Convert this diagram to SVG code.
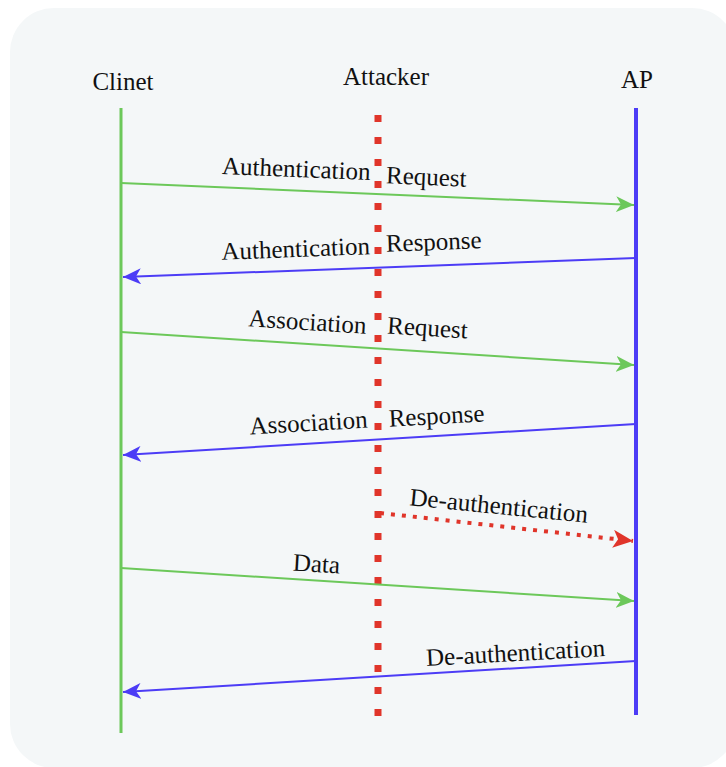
<svg xmlns="http://www.w3.org/2000/svg" width="726" height="767" viewBox="0 0 726 767">
  <defs>
    <style>
      .label { font-family: "Liberation Serif", "Times New Roman", serif; font-size: 25px; fill: #111; text-anchor: middle; }
      .msg-green { stroke: #6cc85a; stroke-width: 2; fill: none; }
      .msg-blue { stroke: #4c3cf6; stroke-width: 2; fill: none; }
      .msg-red { stroke: #e0352a; stroke-width: 4; fill: none; stroke-dasharray: 4 7; }
    </style>
    <marker id="head-green" markerUnits="userSpaceOnUse" markerWidth="18" markerHeight="16" refX="18" refY="8" orient="auto">
      <path d="M0,0 L18,8 L0,16 L5,8 Z" fill="#6cc85a"/>
    </marker>
    <marker id="head-blue" markerUnits="userSpaceOnUse" markerWidth="18" markerHeight="16" refX="18" refY="8" orient="auto">
      <path d="M0,0 L18,8 L0,16 L5,8 Z" fill="#4c3cf6"/>
    </marker>
    <marker id="head-red" markerUnits="userSpaceOnUse" markerWidth="20" markerHeight="18" refX="20" refY="9" orient="auto">
      <path d="M0,0 L20,9 L0,18 L5,9 Z" fill="#e0352a"/>
    </marker>
  </defs>

  <!-- page background and panel -->
  <rect x="0" y="0" width="726" height="767" fill="#ffffff"/>
  <rect x="10" y="8" width="726" height="760" rx="44" ry="44" fill="#f4f7f8"/>

  <!-- participants -->
  <g id="client">
    <text class="label" x="123" y="90">Clinet</text>
    <line x1="121" y1="108" x2="121" y2="733" stroke="#6cc85a" stroke-width="3"/>
  </g>
  <g id="attacker">
    <text class="label" x="386" y="85">Attacker</text>
    <line x1="378" y1="115" x2="378" y2="716" stroke="#e0352a" stroke-width="7" stroke-dasharray="7 15"/>
  </g>
  <g id="ap">
    <text class="label" x="637" y="88">AP</text>
    <line x1="636" y1="108" x2="636" y2="715" stroke="#4c3cf6" stroke-width="4"/>
  </g>

  <!-- messages -->
  <g id="connectors">
    <line class="msg-green" x1="121" y1="183" x2="634" y2="205" marker-end="url(#head-green)"/>
    <line class="msg-blue" x1="636" y1="258" x2="123" y2="277" marker-end="url(#head-blue)"/>
    <line class="msg-green" x1="121" y1="332" x2="634" y2="365" marker-end="url(#head-green)"/>
    <line class="msg-blue" x1="636" y1="424" x2="123" y2="455" marker-end="url(#head-blue)"/>
    <line class="msg-red" x1="380" y1="513" x2="633" y2="541" marker-end="url(#head-red)"/>
    <line class="msg-green" x1="121" y1="568" x2="634" y2="601" marker-end="url(#head-green)"/>
    <line class="msg-blue" x1="636" y1="661" x2="123" y2="692" marker-end="url(#head-blue)"/>
  </g>

  <!-- message labels -->
  <g id="labels">
    <text class="label" transform="translate(296,177) rotate(2.4)">Authentication</text>
    <text class="label" transform="translate(426,185) rotate(2.4)">Request</text>
    <text class="label" transform="translate(296,257) rotate(-2.2)">Authentication</text>
    <text class="label" transform="translate(434,250) rotate(-2.2)">Response</text>
    <text class="label" transform="translate(307,330) rotate(3.6)">Association</text>
    <text class="label" transform="translate(427,336) rotate(3.6)">Request</text>
    <text class="label" transform="translate(309,431) rotate(-3.3)">Association</text>
    <text class="label" transform="translate(437,424) rotate(-3.3)">Response</text>
    <text class="label" transform="translate(498,514) rotate(5.6)">De-authentication</text>
    <text class="label" transform="translate(316,572) rotate(3.6)">Data</text>
    <text class="label" transform="translate(516,661) rotate(-3.2)">De-authentication</text>
  </g>
</svg>
